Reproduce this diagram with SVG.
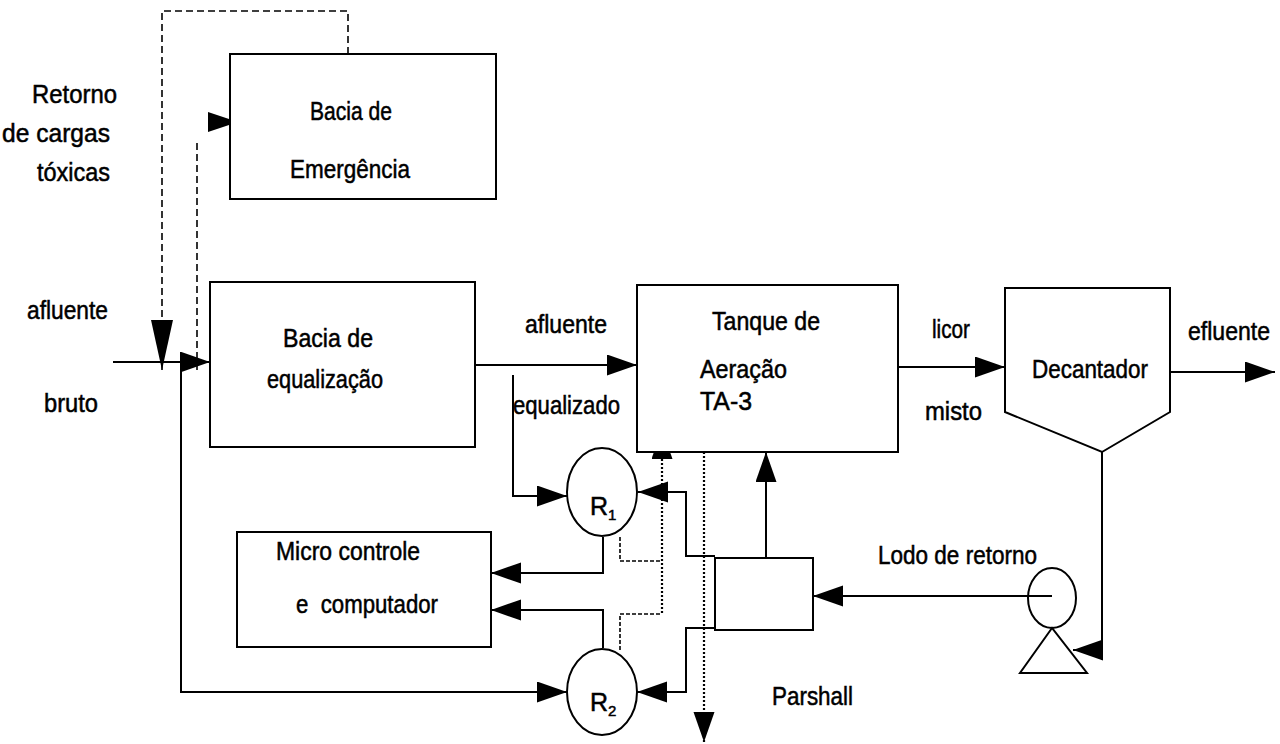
<svg xmlns="http://www.w3.org/2000/svg" width="1280" height="744" viewBox="0 0 1280 744">
<style>
  .box { fill: #fff; stroke: #000; stroke-width: 2; }
  .ln { fill: none; stroke: #000; stroke-width: 2; }
  .dash { fill: none; stroke: #000; stroke-width: 1.6; stroke-dasharray: 7 4; }
  .dot { fill: none; stroke: #000; stroke-width: 2.2; stroke-dasharray: 2 2; }
  .fine { fill: none; stroke: #000; stroke-width: 1.6; stroke-dasharray: 4 2; }
  .ah { fill: #000; stroke: none; }
  text { font-family: "Liberation Sans", Arial, sans-serif; font-size: 25px; fill: #000; stroke: #000; stroke-width: 0.5; }
  .sub { font-size: 15px; }
</style>
<defs>
  <marker id="arr" markerUnits="userSpaceOnUse" markerWidth="31" markerHeight="22" refX="30" refY="10.5" orient="auto">
    <path d="M0,0 L30,10.5 L0,21 Z" fill="#000"/>
  </marker>
  <marker id="arrBig" markerUnits="userSpaceOnUse" markerWidth="51" markerHeight="24" refX="50" refY="11" orient="auto">
    <path d="M0,0 L50,11 L0,22 Z" fill="#000"/>
  </marker>
</defs>
<rect width="1280" height="744" fill="#fff"/>

<g id="connectors">
  <path class="ln" d="M113,362 H210" marker-end="url(#arr)"/>
  <path class="dash" d="M348,54 V11 H162 V370" marker-end="url(#arrBig)"/>
  <path class="dash" d="M197,370 V140"/>
  <polygon class="ah" points="208,112 238,122 208,132"/>
  <path class="ln" d="M181,362 V692 H567" marker-end="url(#arr)"/>
  <path class="ln" d="M475,365 H637" marker-end="url(#arr)"/>
  <path class="ln" d="M513,375 V496 H567" marker-end="url(#arr)"/>
  <path class="ln" d="M898,367 H1005" marker-end="url(#arr)"/>
  <path class="ln" d="M1170,372 H1275" marker-end="url(#arr)"/>
  <path class="ln" d="M1102,452 V660"/>
  <path class="ln" d="M1103,650 H1073" marker-end="url(#arr)"/>
  <path class="ln" d="M1052,596 H813" marker-end="url(#arr)"/>
  <path class="ln" d="M766,558 V452" marker-end="url(#arr)"/>
  <path class="ln" d="M715,556 H686 V492 H638" marker-end="url(#arr)"/>
  <path class="ln" d="M715,628 H686 V692 H637" marker-end="url(#arr)"/>
  <path class="ln" d="M603,537 V573 H491" marker-end="url(#arr)"/>
  <path class="ln" d="M603,648 V610 H491" marker-end="url(#arr)"/>
  <path class="dot" d="M662,613 V429" marker-end="url(#arr)"/>
  <path class="dot" d="M704,452 V742" marker-end="url(#arr)"/>
  <path class="fine" d="M620,537 V561 H662"/>
  <path class="fine" d="M620,650 V614 H662"/>
</g>

<g id="labels">
  <text x="32" y="103" textLength="85" lengthAdjust="spacingAndGlyphs">Retorno</text>
  <text x="2" y="142" textLength="108" lengthAdjust="spacingAndGlyphs">de cargas</text>
  <text x="37" y="181" textLength="73" lengthAdjust="spacingAndGlyphs">tóxicas</text>
  <text x="27" y="319" textLength="81" lengthAdjust="spacingAndGlyphs">afluente</text>
  <text x="44" y="412" textLength="54" lengthAdjust="spacingAndGlyphs">bruto</text>
  <text x="525" y="333" textLength="82" lengthAdjust="spacingAndGlyphs">afluente</text>
  <text x="513" y="414" textLength="107" lengthAdjust="spacingAndGlyphs">equalizado</text>
  <text x="932" y="338" textLength="38" lengthAdjust="spacingAndGlyphs">licor</text>
  <text x="925" y="420" textLength="57" lengthAdjust="spacingAndGlyphs">misto</text>
  <text x="1188" y="340" textLength="82" lengthAdjust="spacingAndGlyphs">efluente</text>
  <text x="878" y="564" textLength="159" lengthAdjust="spacingAndGlyphs">Lodo de retorno</text>
</g>

<g id="bacia-emergencia">
  <rect class="box" x="230" y="54" width="266" height="145"/>
  <text x="310" y="120" textLength="82" lengthAdjust="spacingAndGlyphs">Bacia de</text>
  <text x="290" y="178" textLength="120" lengthAdjust="spacingAndGlyphs">Emergência</text>
</g>

<g id="bacia-equalizacao">
  <rect class="box" x="210" y="282" width="265" height="165"/>
  <text x="283" y="347" textLength="90" lengthAdjust="spacingAndGlyphs">Bacia de</text>
  <text x="267" y="388" textLength="116" lengthAdjust="spacingAndGlyphs">equalização</text>
</g>

<g id="tanque-aeracao">
  <rect class="box" x="637" y="285" width="261" height="167"/>
  <text x="712" y="330" textLength="108" lengthAdjust="spacingAndGlyphs">Tanque de</text>
  <text x="700" y="378" textLength="87" lengthAdjust="spacingAndGlyphs">Aeração</text>
  <text x="700" y="410" textLength="52" lengthAdjust="spacingAndGlyphs">TA-3</text>
</g>

<g id="decantador">
  <polygon class="box" points="1005,288 1170,288 1170,412 1102,452 1005,412"/>
  <text x="1032" y="378" textLength="116" lengthAdjust="spacingAndGlyphs">Decantador</text>
</g>

<g id="micro-controle">
  <rect class="box" x="237" y="532" width="254" height="115"/>
  <text x="276" y="560" textLength="144" lengthAdjust="spacingAndGlyphs">Micro controle</text>
  <text x="296" y="613" textLength="142" lengthAdjust="spacingAndGlyphs" xml:space="preserve">e  computador</text>
</g>

<g id="r1">
  <ellipse class="box" cx="602" cy="492" rx="35" ry="44"/>
  <text x="590" y="515">R<tspan class="sub" dy="5">1</tspan></text>
</g>

<g id="r2">
  <ellipse class="box" cx="602" cy="692" rx="35" ry="43"/>
  <text x="590" y="711">R<tspan class="sub" dy="5">2</tspan></text>
</g>

<g id="parshall">
  <rect class="box" x="715" y="558" width="98" height="72"/>
  <text x="772" y="705" textLength="81" lengthAdjust="spacingAndGlyphs">Parshall</text>
</g>

<g id="bomba">
  <ellipse class="box" cx="1052" cy="598" rx="24" ry="30"/>
  <polygon class="box" points="1052,628 1020,673 1087,673"/>
  <path class="ln" d="M1052,596 H1028"/>
</g>
</svg>
